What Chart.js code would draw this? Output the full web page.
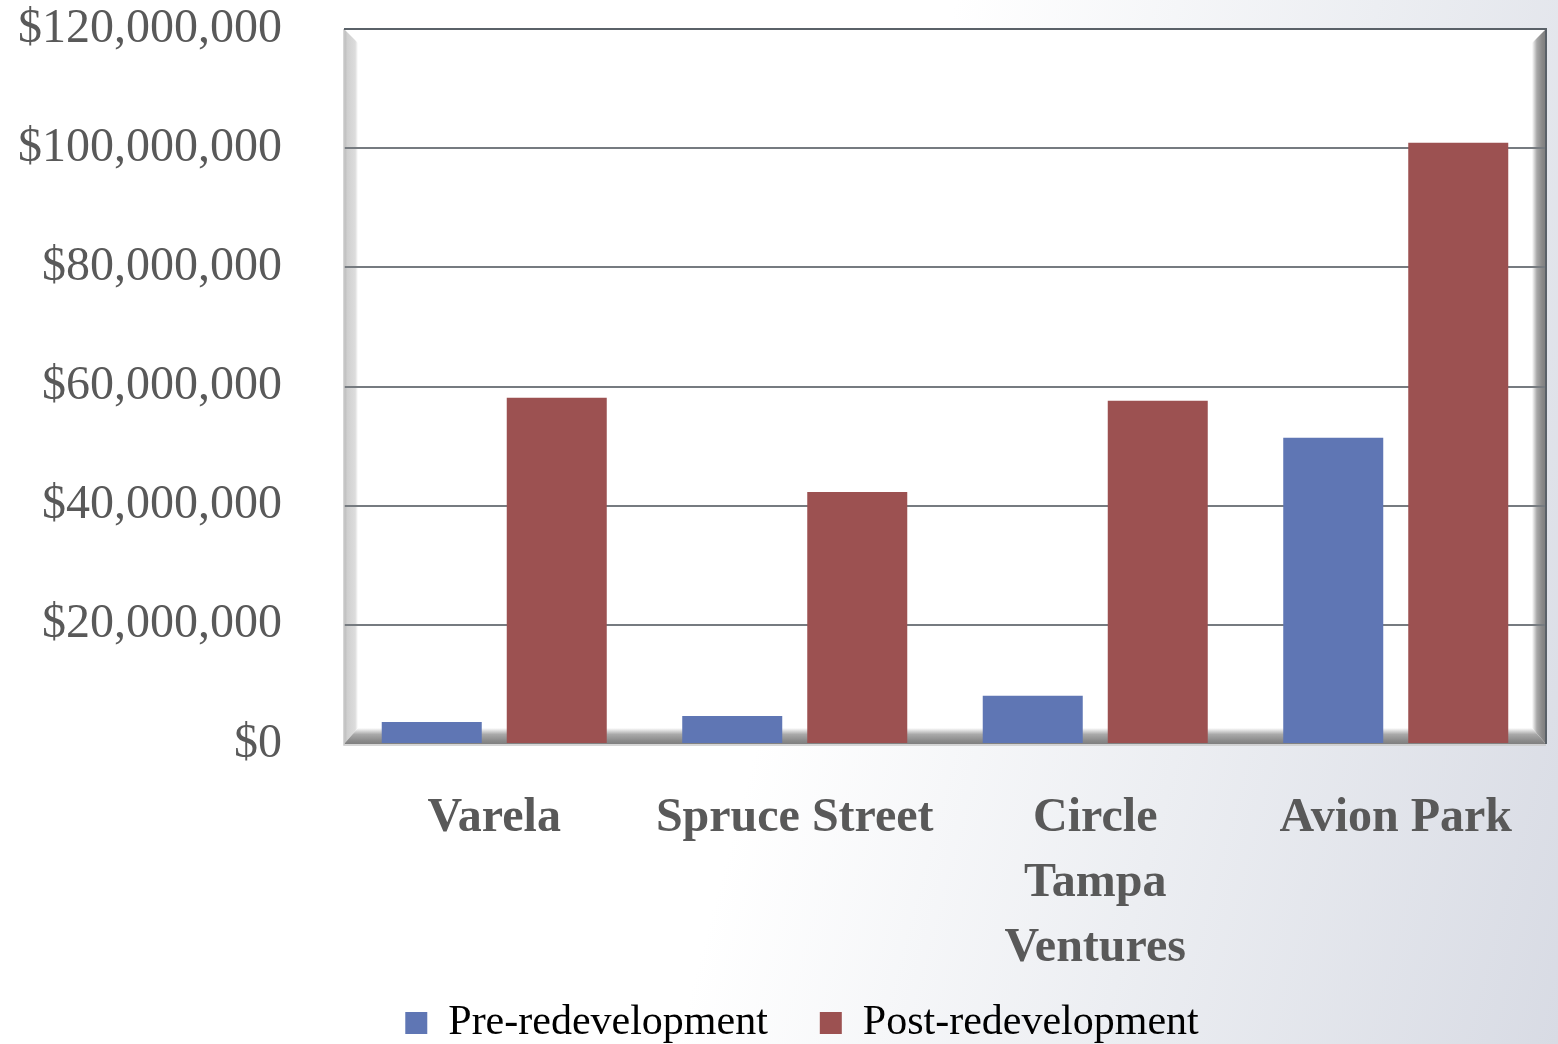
<!DOCTYPE html>
<html>
<head>
<meta charset="utf-8">
<script src="https://cdn.jsdelivr.net/npm/chart.js@4/dist/chart.umd.min.js"></script>
<style>
    html, body { margin: 0; padding: 0; overflow: hidden; }
    #wrap {
        width: 1558px; height: 1044px; overflow: hidden; position: relative;
        background: linear-gradient(105deg, #ffffff 0%, #ffffff 52%, #eceef2 75%, #d8dbe4 100%);
    }
    canvas { display: block; }
</style>
</head>
<body>
<div id="wrap"><canvas id="chart" width="1558" height="1054"></canvas></div>
<script>
'use strict';

const categories = ['Varela', 'Spruce Street', ['Circle', 'Tampa', 'Ventures'], 'Avion Park'];
const seriesNames = ['Pre-redevelopment', 'Post-redevelopment'];
const preValues = [3700000, 4700000, 8100000, 51400000];
const postValues = [58100000, 42300000, 57600000, 100900000];
const yTicks = [0, 20000000, 40000000, 60000000, 80000000, 100000000, 120000000];

const BLUE = '#5f76b4';
const RED = '#9c5151';
const SERIF = "'Liberation Serif', 'DejaVu Serif', serif";

// walls / floor / frame drawn around the chart area
const frame3d = {
    id: 'frame3d',
    afterLayout(chart) {
        // nudge the legend row to where the original sits
        chart.legend.left += 29;
        chart.legend.right += 29;
    },
    beforeDraw(chart) {
        const {ctx, chartArea: a} = chart;
        const d = 14, fd = 16;
        ctx.save();
        ctx.fillStyle = '#ffffff';
        ctx.fillRect(a.left, a.top, a.right - a.left, a.bottom - a.top);

        // left wall
        let g = ctx.createLinearGradient(a.left, 0, a.left + d, 0);
        g.addColorStop(0, '#b9b9b9');
        g.addColorStop(0.25, '#d0d0d0');
        g.addColorStop(0.8, '#dcdcdc');
        g.addColorStop(1, '#ffffff');
        ctx.fillStyle = g;
        ctx.beginPath();
        ctx.moveTo(a.left, a.top);
        ctx.lineTo(a.left + d, a.top + d);
        ctx.lineTo(a.left + d, a.bottom - fd);
        ctx.lineTo(a.left, a.bottom);
        ctx.closePath();
        ctx.fill();

        // right wall
        g = ctx.createLinearGradient(a.right - d, 0, a.right, 0);
        g.addColorStop(0, '#ffffff');
        g.addColorStop(0.35, '#a8a8a8');
        g.addColorStop(0.7, '#8a8a8a');
        g.addColorStop(1, '#7c7c7c');
        ctx.fillStyle = g;
        ctx.beginPath();
        ctx.moveTo(a.right, a.top);
        ctx.lineTo(a.right - d, a.top + d);
        ctx.lineTo(a.right - d, a.bottom - fd);
        ctx.lineTo(a.right, a.bottom);
        ctx.closePath();
        ctx.fill();

        // floor
        g = ctx.createLinearGradient(0, a.bottom - fd, 0, a.bottom);
        g.addColorStop(0, '#ffffff');
        g.addColorStop(0.4, '#a9a9a9');
        g.addColorStop(0.8, '#8a8a8a');
        g.addColorStop(1, '#808080');
        ctx.fillStyle = g;
        ctx.beginPath();
        ctx.moveTo(a.left, a.bottom);
        ctx.lineTo(a.left + d, a.bottom - fd);
        ctx.lineTo(a.right - d, a.bottom - fd);
        ctx.lineTo(a.right, a.bottom);
        ctx.closePath();
        ctx.fill();
        ctx.restore();
    },
    afterDraw(chart) {
        const {ctx, chartArea: a} = chart;
        ctx.save();
        ctx.strokeStyle = '#c9c9c9';
        ctx.lineWidth = 1.5;
        ctx.beginPath();
        ctx.moveTo(a.left, a.top);
        ctx.lineTo(a.left, a.bottom + 1);
        ctx.lineTo(a.right, a.bottom + 1);
        ctx.stroke();
        ctx.strokeStyle = '#5a6168';
        ctx.lineWidth = 2;
        ctx.beginPath();
        ctx.moveTo(a.left, a.top);
        ctx.lineTo(a.right, a.top);
        ctx.lineTo(a.right, a.bottom);
        ctx.stroke();
        ctx.restore();
    }
};

new Chart(document.getElementById('chart'), {
    type: 'bar',
    data: {
        labels: categories,
        datasets: [
            {
                label: seriesNames[0],
                data: preValues,
                backgroundColor: BLUE,
                borderWidth: 0,
                categoryPercentage: 0.832,
                barPercentage: 0.8
            },
            {
                label: seriesNames[1],
                data: postValues,
                backgroundColor: RED,
                borderWidth: 0,
                categoryPercentage: 0.832,
                barPercentage: 0.8
            }
        ]
    },
    options: {
        responsive: false,
        animation: false,
        devicePixelRatio: 1,
        layout: {padding: {left: 0, right: 12, top: 29, bottom: 0}},
        plugins: {
            tooltip: {enabled: false},
            legend: {
                position: 'bottom',
                labels: {
                    boxWidth: 22,
                    boxHeight: 22,
                    padding: 10,
                    color: '#000000',
                    font: {family: SERIF, size: 42},
                    generateLabels(chart) {
                        const items = Chart.defaults.plugins.legend.labels.generateLabels(chart);
                        // first entry carries the wide gap before the second
                        items[0].text = items[0].text + '    ';
                        return items;
                    }
                }
            }
        },
        scales: {
            x: {
                grid: {display: false, drawTicks: false},
                border: {display: false},
                ticks: {
                    autoSkip: false,
                    maxRotation: 0,
                    minRotation: 0,
                    padding: 42,
                    color: '#595959',
                    font: {family: SERIF, size: 48, weight: 'bold', lineHeight: 1.354}
                },
                afterFit(scale) { scale.height = 248; }
            },
            y: {
                min: 0,
                max: 120000000,
                afterBuildTicks(scale) { scale.ticks = yTicks.map(v => ({value: v})); },
                grid: {
                    drawTicks: false,
                    color: ctx => ctx.tick && ctx.tick.value === 0 ? 'rgba(0,0,0,0)' : '#767b80',
                    lineWidth: 2
                },
                border: {display: false},
                ticks: {
                    padding: 62,
                    color: '#595959',
                    font: {family: SERIF, size: 48},
                    callback: v => '$' + Number(v).toLocaleString('en-US')
                },
                afterFit(scale) {
                    scale.width = 344;
                    scale.paddingTop = 0;
                    scale.paddingBottom = 0;
                }
            }
        }
    },
    plugins: [frame3d]
});
</script>
</body>
</html>
